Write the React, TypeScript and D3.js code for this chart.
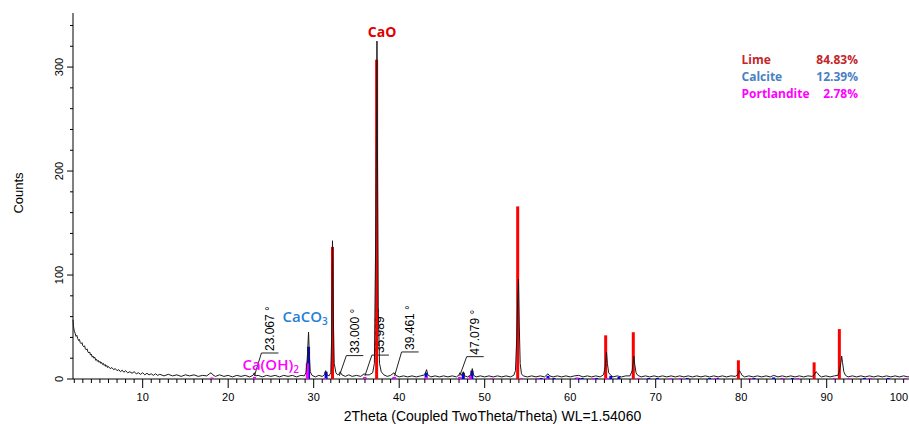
import React from 'react';
import * as d3 from 'd3';

// measured pattern, [2theta, counts]
const pattern: [number, number][] = [
  [1.85, 57], [1.9, 51], [2.0, 46], [2.1, 44], [2.2, 41], [2.3, 42], [2.4, 39], [2.5, 37], [2.6, 38],
  [2.7, 35], [2.8, 34], [2.9, 35], [3.0, 32], [3.1, 31], [3.2, 32], [3.3, 29], [3.4, 28], [3.5, 29],
  [3.6, 26], [3.7, 25], [3.8, 26], [3.9, 23], [4.0, 24], [4.1, 21], [4.2, 22], [4.3, 20], [4.4, 21],
  [4.5, 18], [4.6, 19], [4.7, 17], [4.8, 18], [4.9, 16], [5.0, 17], [5.1, 15], [5.2, 16], [5.3, 14],
  [5.4, 15], [5.5, 13], [5.6, 14], [5.7, 12], [5.8, 13], [5.9, 11], [6.0, 12], [6.2, 10], [6.4, 11],
  [6.6, 9], [6.8, 10], [7.0, 8], [7.2, 9], [7.4, 7], [7.6, 8.5], [7.8, 6.5], [8.0, 8], [8.25, 6],
  [8.5, 7], [8.75, 5.5], [9.0, 7], [9.25, 5], [9.5, 6], [9.75, 4.5], [10.0, 6], [10.25, 4], [10.5, 5.5],
  [10.75, 4], [11.0, 5], [11.25, 3.5], [11.5, 5], [11.75, 3.5], [12.0, 4.5], [12.5, 3], [13.0, 4.5],
  [13.5, 3], [14.0, 4], [14.5, 2.5], [15.0, 4], [15.5, 3], [16.0, 4], [16.5, 2.5], [17.0, 3.5],
  [17.5, 3], [17.8, 5], [18.0, 6], [18.2, 4], [18.5, 2.5], [19.0, 4], [19.5, 2.5], [20.0, 3.5],
  [20.5, 2], [21.0, 3.5], [21.5, 2.5], [22.0, 3.5], [22.5, 2], [22.9, 3.5], [23.05, 6], [23.2, 3],
  [23.5, 3.5], [24.0, 2], [24.5, 3.5], [25.0, 2.5], [25.5, 3.5], [26.0, 2], [26.5, 3.5], [27.0, 2.5],
  [27.5, 3.5], [28.0, 2], [28.5, 3.5], [28.9, 3], [29.1, 6], [29.25, 20], [29.4, 45], [29.5, 22],
  [29.6, 7], [29.8, 3.5], [30.2, 2], [30.6, 3.5], [31.0, 2.5], [31.25, 4], [31.4, 8], [31.55, 4],
  [31.8, 3], [32.0, 6], [32.1, 40], [32.2, 133], [32.3, 60], [32.4, 15], [32.6, 6], [32.8, 4],
  [33.0, 5], [33.1, 7], [33.3, 4], [33.7, 2.5], [34.1, 4], [34.5, 2.5], [35.0, 3.5], [35.5, 2.5],
  [35.9, 5], [36.1, 4], [36.5, 4], [36.9, 6], [37.1, 15], [37.25, 135], [37.35, 240], [37.4, 325],
  [37.45, 235], [37.55, 70], [37.7, 15], [37.9, 7], [38.2, 4], [38.6, 2.5], [39.0, 3.5], [39.4, 6],
  [39.6, 3.5], [40.0, 2], [40.5, 3], [41.0, 2], [41.5, 3], [42.0, 2], [42.5, 3], [43.0, 4], [43.2, 9],
  [43.35, 4], [43.7, 2], [44.2, 3], [44.7, 2], [45.2, 3], [45.7, 2], [46.2, 3], [46.7, 2], [47.0, 4],
  [47.1, 6], [47.3, 3.5], [47.5, 7], [47.65, 3], [48.0, 2], [48.4, 4], [48.55, 10], [48.7, 3.5],
  [49.0, 2], [49.5, 3], [50.0, 2], [50.5, 3], [51.0, 2], [51.5, 3], [52.0, 2], [52.5, 3], [53.0, 2],
  [53.4, 3.5], [53.6, 8], [53.75, 40], [53.85, 74], [53.95, 96], [54.05, 50], [54.15, 15], [54.3, 5],
  [54.5, 3], [55.0, 2], [55.5, 3], [56.0, 2], [56.5, 3], [57.0, 2], [57.4, 5], [57.6, 3], [58.0, 2],
  [58.5, 3], [59.0, 2], [59.5, 3], [60.0, 2], [60.5, 3], [61.0, 3.5], [61.5, 2], [62.0, 3], [62.5, 2],
  [63.0, 3], [63.5, 2], [63.9, 4], [64.1, 12], [64.25, 26], [64.35, 15], [64.5, 6], [64.7, 4],
  [65.0, 2], [65.5, 3], [66.0, 2], [66.5, 3], [67.0, 3], [67.25, 8], [67.45, 22], [67.55, 14],
  [67.7, 6], [67.9, 3.5], [68.3, 2], [68.8, 3], [69.3, 2], [69.8, 3], [70.3, 2], [70.8, 3], [71.3, 2],
  [71.8, 3], [72.3, 2], [72.8, 3], [73.3, 2], [73.8, 3], [74.3, 2], [74.8, 3], [75.3, 2], [75.8, 3],
  [76.3, 2], [76.8, 3], [77.3, 2], [77.8, 3], [78.3, 2], [78.8, 3], [79.3, 2.5], [79.6, 4], [79.8, 8],
  [79.95, 6], [80.1, 3.5], [80.4, 2], [80.9, 3], [81.4, 2], [81.9, 3], [82.4, 2], [82.9, 3], [83.4, 2],
  [83.8, 3.5], [84.3, 2], [84.8, 3], [85.3, 2], [85.8, 3], [86.3, 2], [86.8, 3], [87.3, 2], [87.8, 3],
  [88.3, 2.5], [88.55, 4], [88.75, 7], [88.9, 6], [89.1, 3.5], [89.4, 2], [89.9, 3], [90.4, 2],
  [90.9, 3], [91.3, 3.5], [91.5, 8], [91.65, 15], [91.75, 22], [91.85, 16], [92.0, 7], [92.2, 3.5],
  [92.5, 2], [93.0, 3], [93.5, 2], [94.0, 3], [94.5, 2], [95.0, 3], [95.5, 2], [96.0, 3], [96.5, 2],
  [97.0, 3], [97.5, 2], [98.0, 3], [98.5, 2], [99.0, 3], [99.5, 2], [100.0, 3],
];

// reference stick patterns
const limeSticks: [number, number][] = [
  [32.2, 127], [37.36, 307], [53.86, 166], [64.15, 42], [67.38, 45], [79.67, 18], [88.53, 16], [91.48, 48],
];
const calciteSticks: [number, number][] = [
  [29.4, 31], [31.45, 7], [35.97, 1.5], [39.4, 2], [43.15, 6], [47.1, 2], [47.5, 6], [48.5, 8],
  [56.6, 1], [57.4, 3], [58.1, 1], [60.7, 1], [61.0, 1], [61.4, 1], [63.1, 1], [64.75, 3], [65.7, 2],
  [69.2, 1], [70.2, 1], [72.9, 1], [73.7, 1], [76.3, 1], [77.2, 1], [81.5, 1], [83.8, 1.5], [84.8, 1],
  [86.0, 1], [94.4, 1], [95.1, 1], [97.2, 1],
];
const portlanditeSticks: [number, number][] = [
  [18.1, 1.5], [23.07, 2], [29.25, 15], [31.3, 1], [35.99, 2], [39.46, 2], [43.2, 2], [47.08, 2],
  [48.3, 3], [50.8, 1], [54.3, 1], [56.2, 1], [57.3, 1], [60.8, 1.5], [62.7, 1], [64.3, 1], [68.0, 1],
  [71.8, 1], [72.9, 1], [77.0, 1], [81.0, 1], [84.9, 1], [86.6, 1], [90.9, 1], [92.6, 1], [95.1, 1],
  [99.2, 1],
];

const yMajor = [0, 100, 200, 300];
const xMajor = [10, 20, 30, 40, 50, 60, 70, 80, 90, 100];

const peakTheta = [23.067, 33.0, 35.989, 39.461, 47.079];
const peakLabels = ['23.067 °', '33.000 °', '35.989 °', '39.461 °', '47.079 °'];
const leaderCounts = [25, 22.5, 23, 26, 21.5];

const phaseNames = ['Lime', 'Calcite', 'Portlandite'];
const phaseShares = ['84.83%', '12.39%', '2.78%'];
const phaseColors = ['#c4262b', '#4a7fc4', '#ff00ff'];

const W = 909;
const H = 424;
const axisFont = 'Liberation Sans, Arial, sans-serif';
const labelFont = 'Open Sans, sans-serif';

export default function App() {
  const x = d3.scaleLinear().domain([1.85, 100]).range([73, 912.2]);
  const y = d3.scaleLinear().domain([0, 352]).range([379, 13]);

  const line = d3.line<[number, number]>()
    .x(d => x(d[0]))
    .y(d => y(d[1]));

  const xTicks = d3.range(2, 101);
  const yTicks = d3.range(0, 352, 20);

  const sticks = (data: [number, number][], color: string, key: string) =>
    data.map((d, i) => (
      <line key={key + i} x1={x(d[0])} x2={x(d[0])} y1={y(0)} y2={y(d[1])}
        stroke={color} strokeWidth={3} />
    ));

  return (
    <svg width={W} height={H} style={{ position: 'absolute', left: 0, top: 0, background: '#fff' }}>
      {/* y axis */}
      <line x1={73} x2={73} y1={y(352)} y2={y(0)} stroke="#000" />
      {yTicks.map(t => (
        <line key={'yt' + t} x1={t % 100 === 0 ? 67 : 70} x2={73} y1={y(t)} y2={y(t)} stroke="#000" />
      ))}
      {yMajor.map(t => (
        <text key={'yl' + t} transform={`translate(63,${y(t)}) rotate(-90)`} textAnchor="middle"
          fontFamily={axisFont} fontSize={11}>{t}</text>
      ))}
      <text transform={`translate(23,193) rotate(-90)`} textAnchor="middle" fontFamily={axisFont} fontSize={13}>Counts</text>

      {/* x axis */}
      <line x1={73} x2={W} y1={y(0)} y2={y(0)} stroke="#000" />
      {xTicks.map(t => (
        <line key={'xt' + t} x1={x(t)} x2={x(t)} y1={y(0)} y2={y(0) + (t % 10 === 0 ? 9 : 4)} stroke="#000" />
      ))}
      {xMajor.map(t => {
        const last = x(t) + 10 > W;
        return (
          <text key={'xl' + t} x={last ? W - 1 : x(t)} y={401} textAnchor={last ? 'end' : 'middle'}
            fontFamily={axisFont} fontSize={11}>{t}</text>
        );
      })}
      <text x={492.5} y={420.5} textAnchor="middle" fontFamily={axisFont} fontSize={14}>
        2Theta (Coupled TwoTheta/Theta) WL=1.54060
      </text>

      {/* peak annotations */}
      {peakTheta.map((t, i) => {
        const px = x(t);
        const py = y(3);
        const ey = y(leaderCounts[i]);
        return (
          <g key={'ann' + i}>
            <polyline points={`${px},${py} ${px + 7},${ey} ${px + 24},${ey}`} fill="none" stroke="#222" strokeWidth={1} />
            <text transform={`translate(${px + 19.5},${ey - 2}) rotate(-90)`} fontFamily={axisFont} fontSize={12}>
              {peakLabels[i]}
            </text>
          </g>
        );
      })}

      {sticks(limeSticks, '#ff0000', 'li')}
      {sticks(calciteSticks, '#0000ff', 'ca')}
      {sticks(portlanditeSticks, '#ff00ff', 'po')}

      <path d={line(pattern) ?? ''} fill="none" stroke="#1a1a1a" strokeWidth={1} />

      {/* phase labels */}
      <text x={x(37.36) + 5.5} y={37} textAnchor="middle" fontFamily={labelFont} fontWeight={700} fontSize={14} fill="#e00000">CaO</text>
      <text x={x(29.4) - 26} y={322} fontFamily={labelFont} fontWeight={600} fontSize={15} fill="#1f80d6">
        CaCO<tspan fontSize={10} dy={3}>3</tspan>
      </text>
      <text x={x(23.067) - 12} y={369.5} fontFamily={labelFont} fontWeight={600} fontSize={15} fill="#ff00ff">
        Ca(OH)<tspan fontSize={10} dy={3}>2</tspan>
      </text>

      {/* phase legend */}
      {phaseNames.map((n, i) => (
        <g key={'lg' + i} fontFamily={labelFont} fontWeight={700} fontSize={12} fill={phaseColors[i]}>
          <text x={741.5} y={63.5 + i * 17}>{n}</text>
          <text x={858} y={63.5 + i * 17} textAnchor="end">{phaseShares[i]}</text>
        </g>
      ))}
    </svg>
  );
}
